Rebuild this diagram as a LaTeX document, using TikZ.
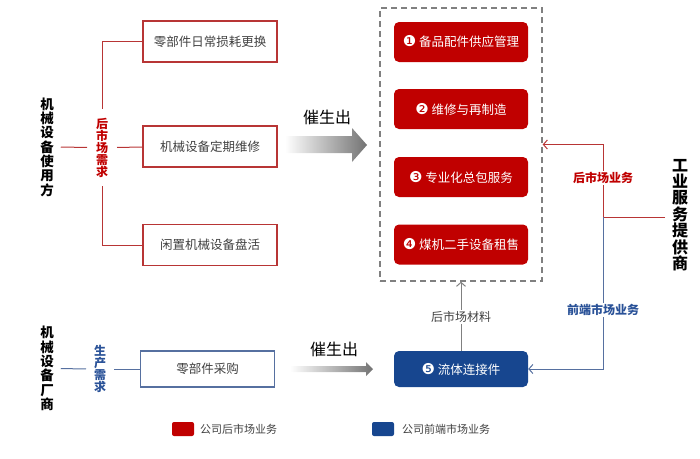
\documentclass[tikz,border=0pt]{standalone}
\usepackage{fontspec}
\setmainfont{Noto Sans CJK SC}
\newfontfamily\dv{DejaVu Sans}
\newcommand{\cnum}[1]{{\dv\fontsize{15}{15}\selectfont #1}}
\usetikzlibrary{arrows.meta}
\definecolor{boxred}{HTML}{C00000}
\definecolor{linered}{HTML}{B83535}
\definecolor{boxblue}{HTML}{17468F}
\definecolor{txtblue}{HTML}{2A5298}
\definecolor{lineblue}{HTML}{5670A0}
\definecolor{txtgray}{HTML}{404040}
\tikzset{
  wbox/.style={draw=linered, line width=1.1pt, minimum width=134pt, minimum height=41pt, inner sep=0pt, text=txtgray, font=\fontsize{12.5}{14}\selectfont},
  bbox/.style={wbox, draw=lineblue, minimum height=36pt},
  rbox/.style={fill=boxred, rounded corners=5pt, minimum width=134pt, minimum height=40pt, inner sep=0pt, text=white, font=\fontsize{12.5}{14}\selectfont},
  bluebox/.style={rbox, fill=boxblue, minimum height=36pt},
  vlab/.style={align=center, inner sep=0pt, font=\fontsize{13.5}{14.3}\selectfont\bfseries},
  rline/.style={draw=linered, line width=1pt},
  bline/.style={draw=lineblue, line width=1pt},
  tip/.style={-{Straight Barb[length=4pt,width=9pt]}},
  labw/.style={fill=white, inner sep=1pt},
  legbox/.style={rounded corners=2pt, minimum width=22pt, minimum height=14pt, inner sep=0pt},
  legtxt/.style={anchor=west, inner sep=0pt, text=txtgray, font=\fontsize{11}{13}\selectfont},
  cs/.style={text=black, font=\fontsize{16}{18}\selectfont}
}
\begin{document}
\begin{tikzpicture}[x=1pt,y=-1pt]
\useasboundingbox (0,0) rectangle (700,458);
% dashed group
\node[draw=gray, dash pattern=on 6pt off 4pt, line width=1.4pt, minimum width=162pt, minimum height=273pt, inner sep=0pt] (grp) at (461,144.5) {};
% red service boxes
\node[rbox] (r1) at (461,42) {\cnum{❶} 备品配件供应管理};
\node[rbox] (r2) at (461,109) {\cnum{❷} 维修与再制造};
\node[rbox] (r3) at (461,177) {\cnum{❸} 专业化总包服务};
\node[rbox] (r4) at (461,244.5) {\cnum{❹} 煤机二手设备租售};
\node[bluebox] (r5) at (461,369) {\cnum{❺} 流体连接件};
% left boxes
\node[wbox] (b1) at (210,41.5) {零部件日常损耗更换};
\node[wbox] (b2) at (210,146.5) {机械设备定期维修};
\node[wbox] (b3) at (210,245) {闲置机械设备盘活};
\node[bbox] (b4) at (207.5,369) {零部件采购};
% left labels
\node[vlab, outer sep=7pt] (user) at (47,147) {机\\械\\设\\备\\使\\用\\方};
\node[vlab, outer sep=9pt, text=boxred, font=\fontsize{12}{12}\selectfont\bfseries] (need) at (102,147.5) {后\\市\\场\\需\\求};
\node[vlab, outer sep=7pt] (maker) at (47,368.5) {机\\械\\设\\备\\厂\\商};
\node[vlab, outer sep=8pt, text=txtblue, font=\fontsize{12}{12}\selectfont\bfseries] (pneed) at (100,369) {生\\产\\需\\求};
\draw[rline] (user) -- (need);
\draw[rline] (need) -- (b2);
\draw[rline] (need.north) |- (b1.west);
\draw[rline] (need.south) |- (b3.west);
\draw[bline] (maker) -- (pneed);
\draw[bline] (pneed) -- (b4);
% gradient arrows
\shade[left color=white, right color=black!55] (285,136) -- (352,136) -- (352,128) -- (367,145) -- (352,162) -- (352,153) -- (285,153) -- cycle;
\node[cs] (c1) at (327,117) {催生出};
\shade[left color=white, right color=black!55] (290,366) -- (366,366) -- (366,362) -- (373,369) -- (366,376) -- (366,372) -- (290,372) -- cycle;
\node[cs] (c2) at (334,349) {催生出};
% right provider
\node[vlab, outer sep=7pt, font=\fontsize{16}{16.4}\selectfont\bfseries] (prov) at (680,215) {工\\业\\服\\务\\提\\供\\商};
\coordinate (j) at (603,217);
\draw[rline] (prov.west |- j) -- (j);
\draw[rline, tip] (j) |- (grp.east);
\draw[bline, tip] (j) |- (r5.east);
\node[labw, text=boxred, font=\fontsize{12}{14}\selectfont\bfseries] (l1) at (603,178) {后市场业务};
\node[labw, text=txtblue, font=\fontsize{12}{14}\selectfont\bfseries] (l2) at (603,310) {前端市场业务};
% materials arrow
\draw[gray, line width=1pt, tip] (r5.north) -- (grp.south);
\node[labw, text=txtgray, font=\fontsize{12}{14}\selectfont] (l3) at (461,317) {后市场材料};
% legend
\node[legbox, fill=boxred] (lg1) at (183,429) {};
\node[legtxt] (lt1) at (200,429) {公司后市场业务};
\node[legbox, fill=boxblue] (lg2) at (383,429) {};
\node[legtxt] (lt2) at (402,429) {公司前端市场业务};
\end{tikzpicture}
\end{document}
